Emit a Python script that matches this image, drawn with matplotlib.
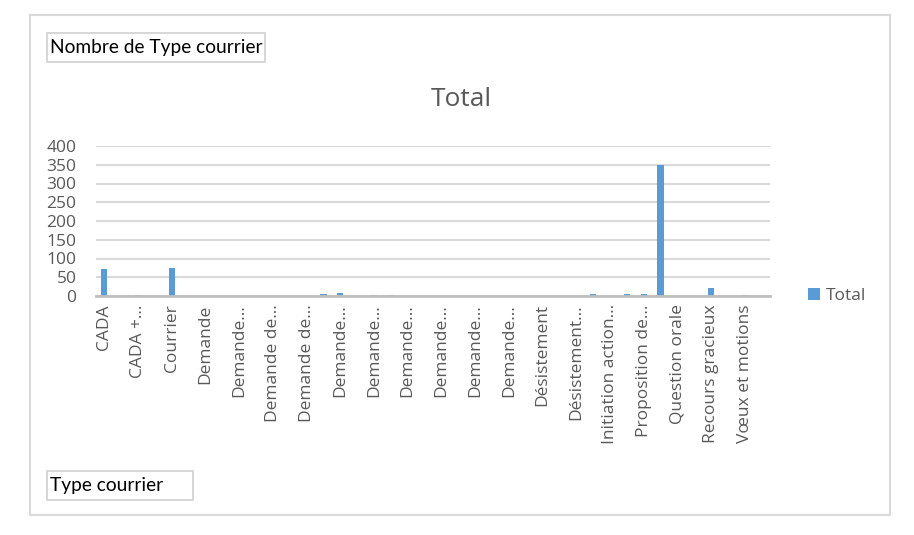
import matplotlib
matplotlib.use("Agg")
import matplotlib.pyplot as plt
from matplotlib.patches import Rectangle
import numpy as np

categories = [
    "CADA", "CADA + autre", "CADA + …", "Convocation", "Courrier", "Courriel",
    "Demande", "Demande d'aide", "Demande…", "Demande d'avis", "Demande de…",
    "Demande de copie", "Demande de…", "Demande d'info", "Demande…", "Demande de RDV",
    "Demande…", "Demande de soutien", "Demande…", "Demande de subvention",
    "Demande…", "Demande d'emploi", "Demande…", "Demande urgente", "Demande…",
    "Dépôt", "Désistement", "Désistement partiel", "Désistement…", "Information",
    "Initiation action…", "Invitation", "Proposition de…", "Question écrite",
    "Question orale", "Réclamation", "Recours gracieux", "Signalement",
    "Vœux et motions", "Autre",
]
values = [71, 0, 2, 0, 74, 0,
          0, 0, 0, 1, 0,
          0, 0, 5, 9, 0,
          2, 2, 1, 0,
          1, 0, 0, 0, 1,
          0, 0, 0, 0, 6,
          0, 6, 6, 350,
          1, 0, 21, 0,
          4, 0]
tick_labels = ["CADA", "CADA +…", "Courrier", "Demande", "Demande…", "Demande de…",
               "Demande de…", "Demande…", "Demande…", "Demande…", "Demande…",
               "Demande…", "Demande…", "Désistement", "Désistement…",
               "Initiation action…", "Proposition de…", "Question orale",
               "Recours gracieux", "Vœux et motions"]
series_name = "Total"

W, H = 914, 535
fig = plt.figure(figsize=(W / 100, H / 100), dpi=100)
fig.patch.set_facecolor("white")

def fx(px):
    return px / W

def fy(py):
    return 1 - py / H

# outer chart border
fig.patches.append(Rectangle((fx(30), fy(515)), fx(860), (515 - 15) / H,
                             transform=fig.transFigure, fill=False,
                             edgecolor="#d9d9d9", linewidth=1.5))

ax = fig.add_axes([fx(96), fy(296), fx(674), (296 - 146) / H])
x = np.arange(len(categories))
ax.bar(x, values, width=0.36, color="#5b9bd5", label=series_name, zorder=3)
ax.set_xlim(-0.5, len(categories) - 0.5)
ax.set_ylim(0, 400)
ax.set_yticks(np.arange(0, 401, 50))
ax.grid(axis="y", color="#d9d9d9", linewidth=1.5, zorder=0)
for s in ["left", "right", "top"]:
    ax.spines[s].set_visible(False)
ax.spines["bottom"].set_color("#bfbfbf")
ax.spines["bottom"].set_linewidth(2)
ax.spines["bottom"].set_zorder(4)
ax.set_xticks(x[::2])
ax.set_xticklabels(tick_labels, rotation=90, fontsize=12.5, color="#595959",
                   family="Open Sans")
ax.tick_params(axis="x", length=0, pad=6)
ax.tick_params(axis="y", length=0, pad=14, labelsize=12.5, labelcolor="#595959")
for t in ax.get_yticklabels():
    t.set_family("Open Sans")

fig.text(fx(461), fy(99), "Total", ha="center", va="center", fontsize=19,
         color="#595959", family="Open Sans")

leg = fig.legend(loc="center left", bbox_to_anchor=(fx(792), fy(296)),
                 bbox_transform=fig.transFigure, frameon=False,
                 handlelength=0.7, handleheight=0.7, handletextpad=0.35,
                 prop={"family": "Open Sans", "size": 12.5})
for t in leg.get_texts():
    t.set_color("#595959")

# field buttons
fig.patches.append(Rectangle((fx(47), fy(62)), fx(218), (62 - 33) / H,
                             transform=fig.transFigure, fill=False,
                             edgecolor="#d0d0d0", linewidth=1.2))
fig.text(fx(50), fy(47.5), "Nombre de Type courrier", ha="left", va="center",
         fontsize=13.8, color="black", family="Lato")
fig.patches.append(Rectangle((fx(47), fy(500)), fx(146), (500 - 471) / H,
                             transform=fig.transFigure, fill=False,
                             edgecolor="#d0d0d0", linewidth=1.2))
fig.text(fx(50), fy(486), "Type courrier", ha="left", va="center",
         fontsize=13.8, color="black", family="Lato")

fig.savefig("out.png", dpi=100)
